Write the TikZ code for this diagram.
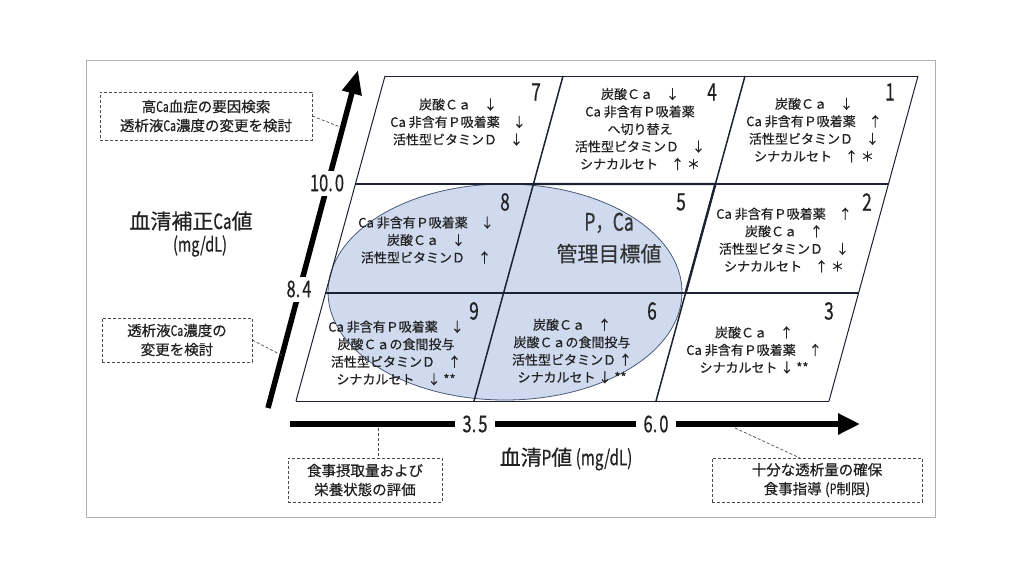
\documentclass[tikz,border=0pt]{standalone}
\usepackage{fontspec}
\setmainfont{Noto Sans CJK JP}[FakeBold=0.5]
\usepackage{graphicx}
\usetikzlibrary{arrows.meta}
\definecolor{ellfill}{HTML}{CFDAEE}
\definecolor{elldraw}{HTML}{4A5A78}
\definecolor{gridc}{HTML}{1C2233}
\definecolor{txt}{HTML}{222222}
\definecolor{framec}{HTML}{B0B0B0}
\newcommand{\cnd}[1]{\scalebox{0.72}[1]{#1}}
\tikzset{
  celltext/.style={align=center, text=txt, font=\fontsize{13}{17.5}\selectfont, inner sep=0pt},
  cellnum/.style={text=txt, font=\fontsize{24}{24}\selectfont, inner sep=0pt},
  axlabel/.style={text=txt, font=\fontsize{23}{23}\selectfont, fill=white},
  notebox/.style={draw=gray!60!black, dash pattern=on 3pt off 2pt, line width=0.8pt, fill=white,
     align=center, text=txt, font=\fontsize{14.5}{19}\selectfont, inner sep=0pt},
  noteline/.style={draw=gray!60!black, dash pattern=on 3pt off 2pt, line width=0.7pt},
  thin grid/.style={draw=gridc, line width=1pt},
  mid grid/.style={draw=gridc, line width=1.5pt},
  thick grid/.style={draw=gridc, line width=2.4pt},
  axisline/.style={draw=black, line width=5.5pt}
}
\begin{document}
\begin{tikzpicture}[x=1pt,y=-1pt]
\useasboundingbox (0,0) rectangle (1024,576);
\fill[white] (0,0) rectangle (1024,576);
\draw[framec, line width=1pt] (86,60) rectangle (935,517);

% grid coordinates: rows 76,184,293,401
\coordinate (L0) at (385,76);   \coordinate (A0) at (563,76);   \coordinate (B0) at (745,76);   \coordinate (R0) at (918,76);
\coordinate (L1) at (355.4,184);\coordinate (A1) at (533.4,184);\coordinate (B1) at (715.4,184);\coordinate (R1) at (888.4,184);
\coordinate (L2) at (325.6,293);\coordinate (A2) at (503.6,293);\coordinate (B2) at (685.6,293);\coordinate (R2) at (858.6,293);
\coordinate (L3) at (296,401);  \coordinate (A3) at (474,401);  \coordinate (B3) at (656,401);  \coordinate (R3) at (829,401);

% target ellipse
\fill[ellfill] (505,292) ellipse [x radius=177, y radius=108];
\draw[elldraw, line width=0.8pt] (505,292) ellipse [x radius=177, y radius=108];

% grid lines
\draw[thin grid] (L0) -- (R0);
\draw[thin grid] (L3) -- (R3);
\draw[thin grid] (L0) -- (L3);
\draw[thin grid] (R0) -- (R3);
\draw[mid grid] (L1) -- (A1);
\draw[mid grid] (B1) -- (R1);
\draw[mid grid] (L2) -- (R2);
\draw[mid grid] (A0) -- (A3);
\draw[mid grid] (B0) -- (B3);
\draw[thick grid] (A1) -- (B1) -- (B2);

% cell texts
\node[celltext] (c7) at (458,122) {炭酸Ｃａ　↓\\Ca 非含有Ｐ吸着薬　↓\\活性型ビタミンＤ　↓};
\node[celltext] (c4) at (640,129) {炭酸Ｃａ　↓\\Ca 非含有Ｐ吸着薬\\へ切り替え\hspace*{2.6em}\\活性型ビタミンＤ　↓\\シナカルセト　↑ ＊};
\node[celltext] (c1) at (814,130) {炭酸Ｃａ　↓\\Ca 非含有Ｐ吸着薬　↑\\活性型ビタミンＤ　↓\\シナカルセト　↑ ＊};
\node[celltext] (c8) at (426,240) {Ca 非含有Ｐ吸着薬　↓\\炭酸Ｃａ　↓\\活性型ビタミンＤ　↑};
\node[align=center, text=black!80, font=\fontsize{21}{31}\selectfont, inner sep=0pt] (c5) at (609,238) {\scalebox{1.15}{\cnd{P，Ca}}\\管理目標値};
\node[celltext] (c2) at (784,240) {Ca 非含有Ｐ吸着薬　↑\\炭酸Ｃａ　↑\\活性型ビタミンＤ　↓\\シナカルセト　↑ ＊};
\node[celltext] (c9) at (396,353) {Ca 非含有Ｐ吸着薬　↓\\炭酸Ｃａの食間投与\\活性型ビタミンＤ　↑\\シナカルセト　↓ **};
\node[celltext] (c6) at (572,351) {炭酸Ｃａ　↑\\炭酸Ｃａの食間投与\\活性型ビタミンＤ ↑\\シナカルセト ↓ **};
\node[celltext] (c3) at (754,350) {炭酸Ｃａ　↑\\Ca 非含有Ｐ吸着薬　↑\\シナカルセト ↓ **};

% cell numbers
\node[cellnum] (n7) at (536,92) {\cnd{7}};
\node[cellnum] (n4) at (712,92) {\cnd{4}};
\node[cellnum] (n1) at (890,92) {\cnd{1}};
\node[cellnum] (n8) at (505,202) {\cnd{8}};
\node[cellnum] (n5) at (681,202) {\cnd{5}};
\node[cellnum] (n2) at (867,202) {\cnd{2}};
\node[cellnum] (n9) at (474,311) {\cnd{9}};
\node[cellnum] (n6) at (652,311) {\cnd{6}};
\node[cellnum] (n3) at (829,311) {\cnd{3}};

% axes
\coordinate (vstart) at (268,408);
\coordinate (vend) at (358,70);
\coordinate (hstart) at (290,424);
\coordinate (hend) at (860,424);
\draw[axisline, -{Triangle[length=24pt,width=19pt]}] (vstart) -- (vend);
\draw[axisline, -{Triangle[length=22pt,width=20pt]}] (hstart) -- (hend);
\node[axlabel, inner xsep=2pt, inner ysep=4pt] (y100) at (327,183) {\cnd{10.\hspace{0.12em}0}};
\node[axlabel, inner xsep=2pt, inner ysep=4pt] (y84) at (299,289) {\cnd{8.\hspace{0.12em}4}};
\node[axlabel, inner xsep=8pt, inner ysep=1pt] (x35) at (475,424) {\cnd{3.\hspace{0.12em}5}};
\node[axlabel, inner xsep=8pt, inner ysep=1pt] (x60) at (656,424) {\cnd{6.\hspace{0.12em}0}};

% axis titles
\node[text=txt, font=\fontsize{21}{21}\selectfont, inner sep=0pt] (ytitle) at (191,221) {血清補正\cnd{Ca}値};
\node[text=txt, font=\fontsize{20}{20}\selectfont, inner sep=0pt] (yunit) at (200,246) {\cnd{(mg/dL)}};
\node[text=txt, font=\fontsize{21}{21}\selectfont, inner sep=0pt] (xtitle) at (566,459) {血清\cnd{P}値\,\cnd{(mg/dL)}};

% note boxes
\node[notebox, minimum width=212pt, minimum height=48pt] (nb1) at (206,116) {高\cnd{Ca}血症の要因検索\\透析液\cnd{Ca}濃度の変更を検討};
\node[notebox, minimum width=150pt, minimum height=44pt] (nb2) at (177,340) {透析液\cnd{Ca}濃度の\\変更を検討};
\node[notebox, minimum width=154pt, minimum height=44pt] (nb3) at (365,480) {食事摂取量および\\栄養状態の評価};
\node[notebox, minimum width=210pt, minimum height=44pt] (nb4) at (817,480) {十分な透析量の確保\\食事指導 (\cnd{P}制限)};

% note connectors
\coordinate (p1) at (340,127);
\coordinate (p2) at (283,356);
\coordinate (p3) at (378,428);
\coordinate (p4) at (735,428);
\draw[noteline] (nb1.east) -- (p1);
\draw[noteline] (nb2.east) -- (p2);
\draw[noteline] (p3) -- (p3 |- nb3.north);
\draw[noteline] (p4) -- (800,458);
\end{tikzpicture}
\end{document}
